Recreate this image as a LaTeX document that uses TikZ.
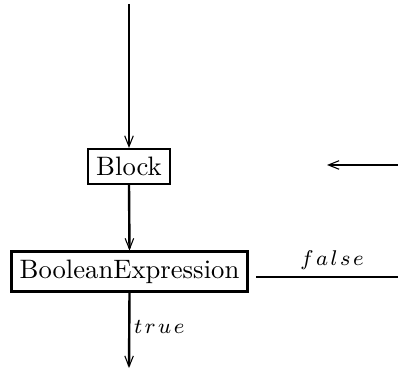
\documentclass[tikz,border=0pt]{standalone}
\usetikzlibrary{arrows.meta}

\begin{document}
\begin{tikzpicture}[x=0.375pt, y=0.375pt, box/.style={draw, line width=0.9pt, inner sep=3pt}, flow/.style={-{Straight Barb[length=4pt, width=3.2pt, line width=0.4pt]}, line width=0.9pt}, side/.style={line width=0.6pt}, guard/.style={font=\footnotesize, inner sep=1pt}]
\useasboundingbox (0,0) rectangle (398,370);
\coordinate (start) at (129,366); \coordinate (exit) at (129,2);
\coordinate (back) at (398,205); \coordinate (backtip) at (327,205);
\coordinate (falsein) at (256,93); \coordinate (falseout) at (398,93);
\node[box] (block) at (129,203.5) {Block};
\node[box] (cond) at (129.5,98.5) {BooleanExpression};
\draw[flow] (start)--(block.north);
\draw[flow] (block.south)--(cond.north);
\draw[flow] (cond.south)--(exit);
\draw[flow, side] (back)--(backtip);
\draw[side] (falsein)--(falseout);
\node[guard] (lfalse) at (332,110) {$f\mkern2mu a\mkern2mu l\mkern2mu s\mkern2mu e$};
\node[guard, anchor=west] (ltrue) at (131,43) {$t\mkern2mu r\mkern2mu u\mkern2mu e$};
\end{tikzpicture}
\end{document}
